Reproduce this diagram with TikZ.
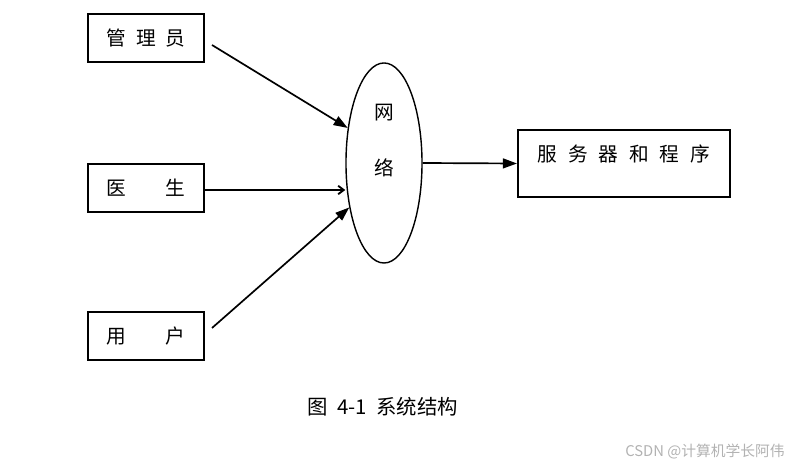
\documentclass[tikz,border=0pt]{standalone}
\usepackage{fontspec}
\setmainfont{Noto Sans CJK SC}
\usetikzlibrary{shapes.geometric, arrows, arrows.meta, positioning, calc}

\begin{document}
\begin{tikzpicture}[x=0.025cm, y=-0.025cm,
    actor/.style={draw, line width=1.4pt, minimum width=2.9cm, minimum height=1.2cm,
        inner sep=0pt, font=\fontsize{14}{16}\selectfont},
    server/.style={draw, line width=1.4pt, minimum width=5.3cm, inner sep=0pt,
        text height=22pt, text depth=25pt, font=\fontsize{14}{16}\selectfont},
    net/.style={draw, ellipse, line width=1pt, minimum width=1.9cm, minimum height=5cm, inner sep=0pt},
    flow/.style={line width=1.2pt, -{Triangle[length=10pt,width=7pt]}},
    thin flow/.style={line width=1.3pt, -{Straight Barb[length=4pt,width=6pt]}}]
\useasboundingbox (0,0) rectangle (792,464);
% Draw the three user boxes
\node[actor] (admin) at (146,38) {管\hspace{0.5em}理\hspace{0.5em}员};
\node[actor] (doctor) at (146,188) {医\hspace{2em}生};
\node[actor] (user) at (146,336) {用\hspace{2em}户};
% Network and server
\node[net] (net) at (384,163) {};
\node[font=\fontsize{14}{16}\selectfont] (netup) at (384,113) {网};
\node[font=\fontsize{14}{16}\selectfont] (netlow) at (384,168) {络};
\node[server] (server) at (624,163.5) {服\hspace{0.55em}务\hspace{0.55em}器\hspace{0.55em}和\hspace{0.55em}程\hspace{0.55em}序};
% Connectors
\draw[flow] ($(admin.east)+(7,7)$) -- (net.136);
\draw[thin flow] ($(doctor.east)+(0,2)$) -- ($(doctor.east -| net.west)+(0,2)$);
\draw[flow] ($(user.east)+(7,-8)$) -- (net.232);
\draw[flow] (net.east) -- (server.west);
% Add caption
\node[font=\fontsize{14.5}{17}\selectfont] (caption) at (383,407) {图\hspace{0.45em}4-1\hspace{0.45em}系统结构};
\node[font=\fontsize{10.5}{13}\selectfont, text=gray!60] (mark) at (705,452) {CSDN @计算机学长阿伟};
\end{tikzpicture}
\end{document}
